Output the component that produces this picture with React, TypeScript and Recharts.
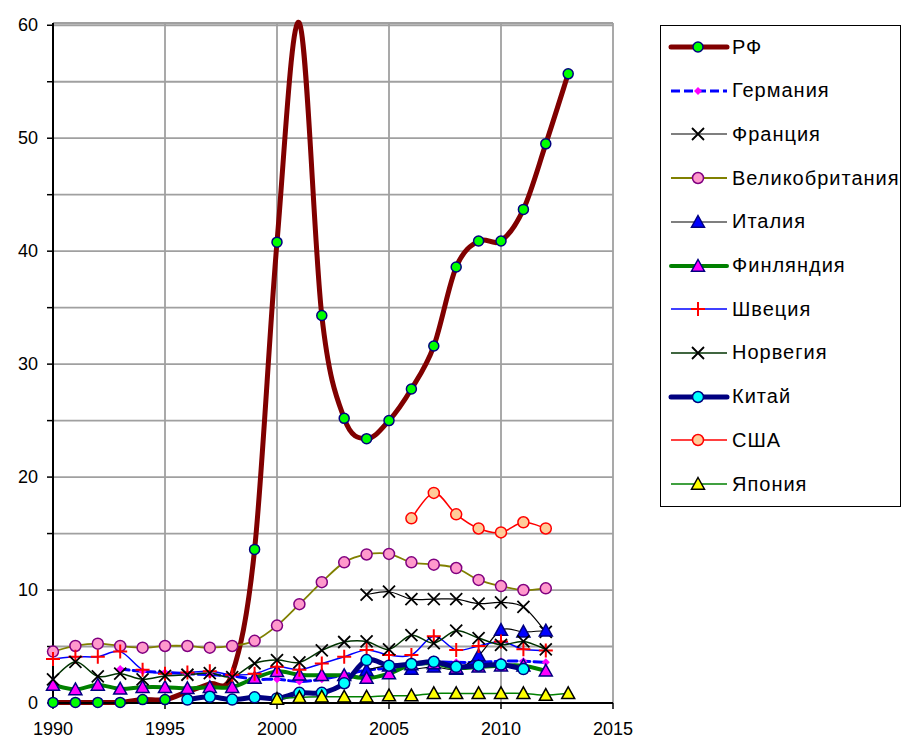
import React from "react";
import { LineChart, Line, XAxis, YAxis, CartesianGrid } from "recharts";

const years = [1990, 1991, 1992, 1993, 1994, 1995, 1996, 1997, 1998, 1999, 2000, 2001, 2002, 2003, 2004, 2005, 2006, 2007, 2008, 2009, 2010, 2011, 2012, 2013];

const rf = [0.05, 0.05, 0.05, 0.05, 0.3, 0.3, 1.0, 1.7, 2.6, 13.6, 40.8, 60.2, 34.3, 25.2, 23.4, 25.0, 27.8, 31.6, 38.6, 40.9, 40.9, 43.7, 49.5, 55.7];
const germany = [null, null, null, 3.0, 2.8, 2.7, 2.6, 2.5, 2.4, 2.1, 2.1, 1.9, 2.1, 2.5, 2.9, 3.1, 3.3, 3.6, 3.6, 3.6, 3.7, 3.7, 3.6, null];
const france = [null, null, null, null, null, null, null, null, null, null, null, null, null, null, 9.6, 9.85, 9.2, 9.2, 9.2, 8.8, 8.9, 8.5, 6.3, null];
const uk = [4.55, 5.05, 5.25, 5.05, 4.9, 5.05, 5.05, 4.9, 5.05, 5.5, 6.85, 8.75, 10.7, 12.45, 13.15, 13.2, 12.45, 12.25, 11.95, 10.9, 10.35, 10.0, 10.15, null];
const italy = [null, null, null, null, null, null, null, null, null, null, null, null, null, null, 2.9, 3.3, 3.0, 3.2, 3.0, 4.2, 6.45, 6.3, 6.4, null];
const finland = [1.6, 1.2, 1.6, 1.25, 1.4, 1.4, 1.3, 1.4, 1.4, 2.2, 2.8, 2.5, 2.45, 2.45, 2.2, 2.6, 3.4, 3.5, 3.1, 3.2, 3.3, 3.3, 2.85, null];
const sweden = [3.9, 4.1, 4.1, 4.55, 2.95, 2.6, 2.7, 2.8, 2.5, 2.6, 3.2, 2.95, 3.5, 4.1, 4.7, 4.25, 4.25, 5.9, 4.7, 5.05, 5.45, 4.75, 4.65, null];
const norway = [2.1, 3.65, 2.35, 2.6, 2.1, 2.4, 2.5, 2.65, 2.3, 3.5, 3.8, 3.6, 4.65, 5.4, 5.45, 4.75, 6.0, 5.3, 6.4, 5.75, 5.15, 5.45, 4.75, null];
const china = [null, null, null, null, null, null, 0.3, 0.55, 0.3, 0.5, 0.4, 0.9, 0.9, 1.75, 3.8, 3.3, 3.45, 3.65, 3.2, 3.3, 3.4, 3.0, null, null];
const usa = [null, null, null, null, null, null, null, null, null, null, null, null, null, null, null, null, 16.35, 18.6, 16.7, 15.45, 15.1, 16.0, 15.45, null];
const japan = [null, null, null, null, null, null, null, null, null, null, 0.35, 0.5, 0.55, 0.55, 0.55, 0.65, 0.65, 0.85, 0.85, 0.85, 0.85, 0.85, 0.7, 0.85];

const xTicks = [1990, 1995, 2000, 2005, 2010, 2015];
const yTicks = [0, 5, 10, 15, 20, 25, 30, 35, 40, 45, 50, 55, 60];

// years where the RF series has no marker drawn
const rfNoMarker = [1996, 1997, 1998, 2001];

const FONT = "'Liberation Sans', Arial, sans-serif";

const series = [
  { key: "rf", name: "РФ", values: rf, color: "#800000", width: 5, dash: undefined, shape: "circle", fill: "#00ff00", mstroke: "#000080", size: 5, hide: rfNoMarker },
  { key: "de", name: "Германия", values: germany, color: "#0000ff", width: 3, dash: "9 4", shape: "diamond", fill: "#ff00ff", mstroke: "none", size: 4 },
  { key: "fr", name: "Франция", values: france, color: "#000000", width: 1.2, dash: undefined, shape: "x", fill: "none", mstroke: "#000000", size: 6 },
  { key: "uk", name: "Великобритания", values: uk, color: "#808000", width: 1.8, dash: undefined, shape: "circle", fill: "#ff99cc", mstroke: "#800080", size: 5.5 },
  { key: "it", name: "Италия", values: italy, color: "#000000", width: 1.2, dash: undefined, shape: "triangle", fill: "#0000ff", mstroke: "#000080", size: 6.5 },
  { key: "fi", name: "Финляндия", values: finland, color: "#008000", width: 4, dash: undefined, shape: "triangle", fill: "#ff00ff", mstroke: "#000080", size: 6.5 },
  { key: "se", name: "Швеция", values: sweden, color: "#0000ff", width: 1.5, dash: undefined, shape: "plus", fill: "none", mstroke: "#ff0000", size: 7 },
  { key: "no", name: "Норвегия", values: norway, color: "#003300", width: 1.5, dash: undefined, shape: "x", fill: "none", mstroke: "#000000", size: 6 },
  { key: "cn", name: "Китай", values: china, color: "#000080", width: 5, dash: undefined, shape: "circle", fill: "#00ffff", mstroke: "#000080", size: 5.5 },
  { key: "us", name: "США", values: usa, color: "#ff0000", width: 1.5, dash: undefined, shape: "circle", fill: "#ffcc99", mstroke: "#ff0000", size: 5.5 },
  { key: "jp", name: "Япония", values: japan, color: "#008000", width: 1.5, dash: undefined, shape: "triangle", fill: "#ffff00", mstroke: "#000000", size: 6.5 },
];

const data = years.map((year, i) => {
  const row: any = { year };
  series.forEach((s) => {
    row[s.key] = s.values[i];
  });
  return row;
});

// Excel-style smoothed line (Catmull-Rom through the points)
const excelSmooth: any = (context: any) => {
  let pts: number[][] = [];
  return {
    areaStart() {},
    areaEnd() {},
    lineStart() {
      pts = [];
    },
    point(x: number, y: number) {
      pts.push([+x, +y]);
    },
    lineEnd() {
      const n = pts.length;
      if (!n) return;
      context.moveTo(pts[0][0], pts[0][1]);
      for (let i = 0; i < n - 1; i++) {
        const p0 = pts[Math.max(i - 1, 0)];
        const p1 = pts[i];
        const p2 = pts[i + 1];
        const p3 = pts[Math.min(i + 2, n - 1)];
        context.bezierCurveTo(
          p1[0] + (p2[0] - p0[0]) / 6,
          p1[1] + (p2[1] - p0[1]) / 6,
          p2[0] - (p3[0] - p1[0]) / 6,
          p2[1] - (p3[1] - p1[1]) / 6,
          p2[0],
          p2[1]
        );
      }
    },
  };
};

function Marker({ shape, x, y, fill, stroke, size }: any) {
  const s = size;
  if (shape === "circle") {
    return <circle cx={x} cy={y} r={s} fill={fill} stroke={stroke} strokeWidth={1.5} />;
  }
  if (shape === "triangle") {
    return (
      <path
        d={`M${x},${y - s} L${x + s},${y + s * 0.8} L${x - s},${y + s * 0.8} Z`}
        fill={fill}
        stroke={stroke}
        strokeWidth={1.5}
        strokeLinejoin="miter"
      />
    );
  }
  if (shape === "diamond") {
    return <path d={`M${x},${y - s} L${x + s},${y} L${x},${y + s} L${x - s},${y} Z`} fill={fill} />;
  }
  if (shape === "x") {
    return (
      <path
        d={`M${x - s},${y - s} L${x + s},${y + s} M${x - s},${y + s} L${x + s},${y - s}`}
        stroke={stroke}
        strokeWidth={1.8}
        fill="none"
      />
    );
  }
  return (
    <path d={`M${x - s},${y} L${x + s},${y} M${x},${y - s} L${x},${y + s}`} stroke={stroke} strokeWidth={2} fill="none" />
  );
}

const makeDot = (s: any) => (props: any) => {
  const { cx, cy, index, payload, value } = props;
  const k = `${s.key}-dot-${index}`;
  if (cx == null || cy == null || value == null || payload[s.key] == null) return <g key={k} />;
  if (s.hide && s.hide.includes(payload.year)) return <g key={k} />;
  return (
    <g key={k}>
      <Marker shape={s.shape} x={cx} y={cy} fill={s.fill} stroke={s.mstroke} size={s.size} />
    </g>
  );
};

const YTick = (props: any) => {
  const { x, y, payload } = props;
  if (payload.value % 10 !== 0) return <g />;
  return (
    <text x={x - 7} y={y} dy={6} textAnchor="end" fontSize={18} fontFamily={FONT} fill="#000">
      {payload.value}
    </text>
  );
};

const XTick = (props: any) => {
  const { x, y, payload } = props;
  return (
    <text x={x} y={y} dy={24} textAnchor="middle" fontSize={18} fontFamily={FONT} fill="#000">
      {payload.value}
    </text>
  );
};

function LegendBox() {
  return (
    <div
      style={{
        position: "absolute",
        left: 660,
        top: 25,
        width: 241,
        height: 482,
        border: "1px solid #000",
        boxSizing: "border-box",
        background: "#fff",
      }}
    >
      {series.map((s, i) => (
        <div
          key={s.key}
          style={{
            position: "absolute",
            left: 0,
            top: 21 + i * 43.7 - 13,
            height: 26,
            display: "flex",
            alignItems: "center",
          }}
        >
          <svg width={71} height={26} style={{ display: "block" }}>
            <line
              x1={10}
              y1={13}
              x2={66}
              y2={13}
              stroke={s.color}
              strokeWidth={s.width}
              strokeDasharray={s.dash}
              strokeLinecap={s.width >= 4 ? "round" : "butt"}
            />
            <Marker shape={s.shape} x={37} y={13} fill={s.fill} stroke={s.mstroke} size={s.size} />
          </svg>
          <span style={{ fontFamily: FONT, fontSize: 20, letterSpacing: 1, color: "#000", whiteSpace: "nowrap" }}>
            {s.name}
          </span>
        </div>
      ))}
    </div>
  );
}

export default function App() {
  return (
    <div style={{ position: "absolute", left: 0, top: 0, width: 903, height: 740, background: "#fff" }}>
      <LineChart width={903} height={740} data={data} margin={{ top: 23, right: 290, bottom: 7, left: 0 }}>
        <CartesianGrid stroke="#a0a0a0" strokeWidth={1.8} />
        <XAxis
          dataKey="year"
          type="number"
          domain={[1990, 2015]}
          ticks={xTicks}
          interval={0}
          height={30}
          tick={<XTick />}
          tickSize={6}
          axisLine={{ stroke: "#000", strokeWidth: 2 }}
          tickLine={{ stroke: "#000", strokeWidth: 1.5 }}
        />
        <YAxis
          type="number"
          domain={[0, 60]}
          ticks={yTicks}
          interval={0}
          width={53}
          tick={<YTick />}
          tickSize={6}
          axisLine={{ stroke: "#000", strokeWidth: 2 }}
          tickLine={{ stroke: "#000", strokeWidth: 1.5 }}
        />
        {series.map((s) => (
          <Line
            key={s.key}
            dataKey={s.key}
            name={s.name}
            type={excelSmooth}
            stroke={s.color}
            strokeWidth={s.width}
            strokeDasharray={s.dash}
            strokeLinejoin="round"
            strokeLinecap="round"
            dot={makeDot(s)}
            activeDot={false}
            isAnimationActive={false}
          />
        ))}
      </LineChart>
      <LegendBox />
    </div>
  );
}
